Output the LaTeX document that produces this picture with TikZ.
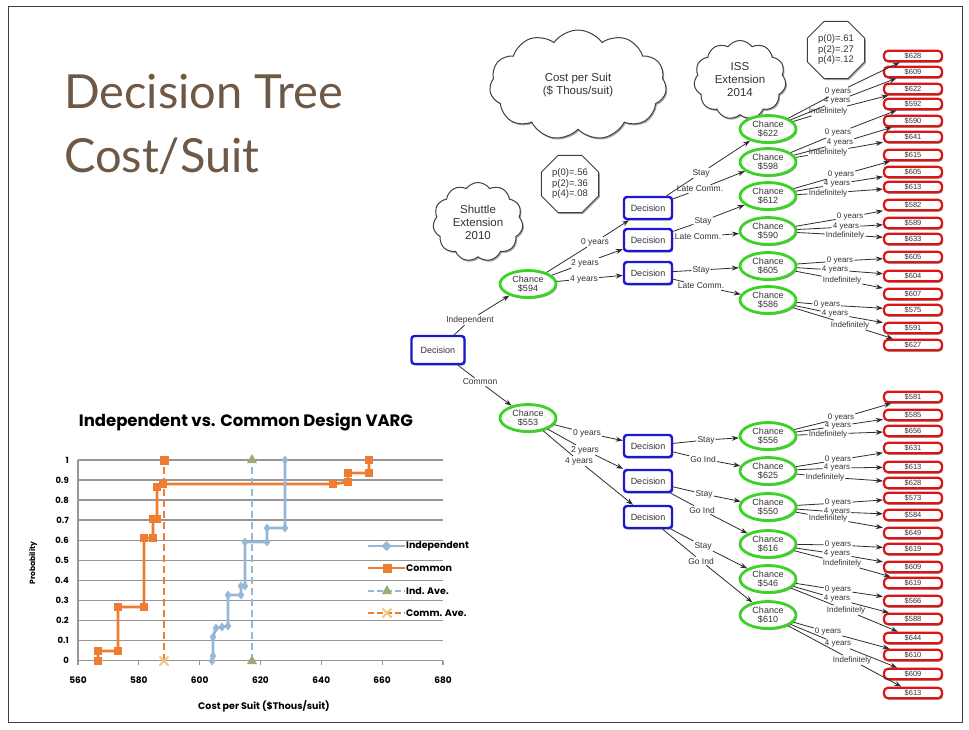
\documentclass[tikz,border=0pt]{standalone}
\usepackage{fontspec}
\setmainfont{Liberation Sans}
\newfontfamily\titlefont{Lato}
\newfontfamily\chartfont{Poppins}
\usetikzlibrary{shapes.geometric,shapes.symbols,shadows,arrows.meta,plotmarks}
\definecolor{decblue}{RGB}{25,25,205}
\definecolor{chgreen}{RGB}{60,210,40}
\definecolor{endred}{RGB}{220,20,20}
\definecolor{titlebrown}{RGB}{110,88,70}
\definecolor{corange}{RGB}{237,125,49}
\definecolor{cblue}{RGB}{149,184,215}
\definecolor{ctri}{RGB}{155,170,120}
\definecolor{cxmark}{RGB}{240,200,120}
\definecolor{gridgray}{RGB}{150,150,150}
\definecolor{linegray}{RGB}{45,45,45}
\tikzset{
  shad/.style={drop shadow={shadow xshift=1.2pt,shadow yshift=-1.5pt,opacity=0.35,fill=black}},
  dec/.style={draw=decblue,line width=2.4pt,rounded corners=3pt,fill=white,minimum width=48pt,minimum height=22pt,inner sep=0pt,font=\fontsize{9}{10}\selectfont,text=black!80,shad},
  chn/.style={ellipse,draw=chgreen,line width=2.8pt,fill=white,minimum width=56pt,minimum height=27pt,inner sep=0pt,align=center,font=\fontsize{9}{9.5}\selectfont,text=black!80,shad},
  endn/.style={draw=endred,line width=2.2pt,rounded corners=4pt,fill=white,minimum width=58pt,minimum height=10.5pt,inner sep=0pt,font=\fontsize{7.5}{7.5}\selectfont,text=black!80,shad},
  lbl/.style={inner sep=1pt,font=\fontsize{8.5}{8.5}\selectfont,text=black!80},
  ln/.style={draw=linegray,line width=0.8pt},
  arr/.style={ln,-{Stealth[length=7pt,width=5pt]}},
  cld/.style={cloud,cloud puffs=11,cloud puff arc=110,draw=black!75,line width=1pt,fill=white,align=center,inner sep=0pt,font=\fontsize{11.5}{13}\selectfont,text=black!80,shad},
  octo/.style={regular polygon,regular polygon sides=8,draw=black!75,line width=1pt,fill=white,minimum size=62pt,inner sep=0pt,align=center,font=\fontsize{9.5}{10.5}\selectfont,text=black!80,shad},
  grid/.style={draw=gridgray,line width=1.5pt},
  axlbl/.style={font=\chartfont\bfseries\fontsize{8.5}{8.5}\selectfont,inner sep=1pt},
  lgtxt/.style={font=\chartfont\bfseries\fontsize{9.5}{9.5}\selectfont,inner sep=1pt,anchor=west},
}
\begin{document}
\begin{tikzpicture}[x=1pt,y=-1pt]
\useasboundingbox (0,0) rectangle (969,729);
\fill[white] (0,0) rectangle (969,729);
\draw[black!75,line width=0.8pt] (8,6) rectangle (962,722);

% title
\node[anchor=west,text=titlebrown,font=\titlefont\fontsize{47}{47}\selectfont,inner sep=0pt] (t1) at (64,92) {Decision Tree};
\node[anchor=west,text=titlebrown,font=\titlefont\fontsize{47}{47}\selectfont,inner sep=0pt] (t2) at (64,156) {Cost/Suit};

% clouds and octagons
\node[cld,minimum width=177pt,minimum height=76pt] (cl1) at (578,85) {Cost per Suit\\(\$ Thous/suit)};
\node[cld,minimum width=92pt,minimum height=68pt] (cl2) at (740,80) {ISS\\Extension\\2014};
\node[cld,minimum width=90pt,minimum height=56pt] (cl3) at (478,222) {Shuttle\\Extension\\2010};
\node[octo] (o1) at (570,184) {p(0)=.56\\p(2)=.36\\p(4)=.08};
\node[octo] (o2) at (836,50) {p(0)=.61\\p(2)=.27\\p(4)=.12};

% end nodes
\foreach \y/\v [count=\i] in {56/628,72/609,89/622,104/592,121/590,137/641,155/615,172/605,187/613,205/582,223/589,239/633,257/605,276/604,294/607,310/575,328/591,345/627}
  \node[endn] (u\i) at (913,\y) {\$\v};
\foreach \y/\v [count=\i] in {397/581,415/585,431/656,448/631,467/613,483/628,498/573,515/584,533/649,549/619,567/609,583/619,601/566,619/588,638/644,655/610,674/609,693/613}
  \node[endn] (l\i) at (913,\y) {\$\v};

% chance nodes
\foreach \y/\v [count=\i] in {129/622,162/598,196/612,231/590,266/605,300/586}
  \node[chn] (c\i) at (768,\y) {Chance\\\$\v};
\foreach \y/\v [count=\i] in {436/556,471/625,507/550,544/616,579/546,615/610}
  \node[chn] (k\i) at (768,\y) {Chance\\\$\v};

% decision nodes
\node[dec,minimum width=53pt,minimum height=28pt] (d0) at (438,350) {Decision};
\node[dec] (d1) at (648,208) {Decision};
\node[dec] (d2) at (648,240) {Decision};
\node[dec] (d3) at (648,273) {Decision};
\node[dec] (e1) at (648,446) {Decision};
\node[dec] (e2) at (648,481) {Decision};
\node[dec] (e3) at (648,517) {Decision};
\node[chn] (ca) at (528,284) {Chance\\\$594};
\node[chn] (cb) at (528,418) {Chance\\\$553};

% first level
\node[lbl] (li) at (470,320) {Independent};
\node[lbl] (lc) at (480,382) {Common};
\draw[ln] (d0) -- (li); \draw[arr] (li) -- (ca);
\draw[ln] (d0) -- (lc); \draw[arr] (lc) -- (cb);

% second and third level
\foreach \a/\x/\y/\t/\b [count=\n] in {
  ca/595/242/0 years/d1, ca/585/263/2 years/d2, ca/584/279/4 years/d3,
  cb/587/433/0 years/e1, cb/585/450/2 years/e2, cb/579/461/4 years/e3,
  d1/701/173/Stay/c1, d1/700/189/Late Comm./c2,
  d2/703/221/Stay/c3, d2/698/237/Late Comm./c4,
  d3/701/270/Stay/c5, d3/701/286/Late Comm./c6,
  e1/706/440/Stay/k1, e1/703/459/Go Ind/k2,
  e2/704/494/Stay/k3, e2/702/510/Go Ind/k4,
  e3/703/546/Stay/k5, e3/701/561/Go Ind/k6}
{
  \node[lbl] (m\n) at (\x,\y) {\t};
  \draw[ln] (\a) -- (m\n);
  \draw[arr] (m\n) -- (\b);
}

% chance -> end branches
\foreach \a/\x/\y/\t/\b [count=\n] in {
  c1/838/92/0 years/u1, c1/837/101/4 years/u2, c1/828/111/Indefinitely/u3,
  c2/838/133/0 years/u4, c2/840/143/4 years/u5, c2/828/152/Indefinitely/u6,
  c3/841/175/0 years/u7, c3/837/184/4 years/u8, c3/828/193/Indefinitely/u9,
  c4/850/217/0 years/u10, c4/846/227/4 years/u11, c4/845/235/Indefinitely/u12,
  c5/840/261/0 years/u13, c5/835/270/4 years/u14, c5/842/280/Indefinitely/u15,
  c6/827/305/0 years/u16, c6/835/314/4 years/u17, c6/850/325/Indefinitely/u18,
  k1/841/418/0 years/l1, k1/838/426/4 years/l2, k1/828/434/Indefinitely/l3,
  k2/838/460/0 years/l4, k2/837/468/4 years/l5, k2/825/477/Indefinitely/l6,
  k3/838/503/0 years/l7, k3/837/512/4 years/l8, k3/828/518/Indefinitely/l9,
  k4/838/545/0 years/l10, k4/837/554/4 years/l11, k4/842/563/Indefinitely/l12,
  k5/838/590/0 years/l13, k5/837/599/4 years/l14, k5/846/610/Indefinitely/l15,
  k6/828/632/0 years/l16, k6/838/644/4 years/l17, k6/852/660/Indefinitely/l18}
{
  \node[lbl,font=\fontsize{8}{8}\selectfont] (b\n) at (\x,\y) {\t};
  \draw[ln] (\a) -- (b\n);
  \draw[arr] (b\n) -- (\b);
}

% ---------------- chart ----------------
\node[font=\chartfont\bfseries\fontsize{16.5}{16.5}\selectfont,inner sep=0pt] (ctitle) at (246,422) {Independent vs. Common Design VARG};
\foreach \k in {0,...,10}
  \draw[grid] (78,{660.7-20.07*\k}) -- (443,{660.7-20.07*\k});
\draw[grid] (78,460) -- (78,661);
\foreach \k/\t in {0/0,1/0.1,2/0.2,3/0.3,4/0.4,5/0.5,6/0.6,7/0.7,8/0.8,9/0.9,10/1}
  \node[axlbl,anchor=east] (yl\k) at (70,{660.7-20.07*\k}) {\t};
\foreach \j/\t in {0/560,1/580,2/600,3/620,4/640,5/660,6/680}{
  \draw[grid,line width=1.2pt] ({78+60.83*\j},661) -- ++(0,4);
  \node[axlbl,font=\chartfont\bfseries\fontsize{9}{9}\selectfont] (xl\j) at ({78+60.83*\j},680) {\t};
}
\node[axlbl,font=\chartfont\bfseries\fontsize{9.5}{9.5}\selectfont] (xt) at (264,706) {Cost per Suit (\$Thous/suit)};
\node[axlbl,rotate=90,font=\chartfont\bfseries\fontsize{7.5}{7.5}\selectfont] (yt) at (33,563) {Probability};

% averages
\draw[cblue,line width=2.2pt,dash pattern=on 7pt off 4pt] (252,661) -- (252,460);
\draw[corange,line width=2.2pt,dash pattern=on 7pt off 4pt] (164,661) -- (164,460);
\path[fill=ctri] (252,454) -- (257,463) -- (247,463) -- cycle;
\path[fill=ctri] (252,655) -- (257,664) -- (247,664) -- cycle;
\fill[corange] (159.5,455.5) rectangle (168.5,464.5);
\draw[cxmark,line width=1.8pt] (159.5,656.5) -- (168.5,665.5) (159.5,665.5) -- (168.5,656.5);

% data
\draw[corange,line width=2.8pt,mark=square*,mark size=3.4pt,mark options={fill=corange,draw=corange,line width=0.5pt}]
  plot coordinates {(98,661) (98,651) (118,651) (118,607) (144,607) (144,538) (153,538) (153,519) (157,519) (157,487) (163,484) (333,484) (348,482) (348,473) (369,473) (369,460)};
\draw[cblue,line width=2.8pt,mark=diamond*,mark size=4pt,mark options={fill=cblue,draw=cblue,line width=0.5pt}]
  plot coordinates {(212,661) (213,656) (213,637) (216,628) (222,627) (228,626) (228,595) (241,595) (241,586) (245,586) (245,542) (267,542) (267,528) (285,528) (285,460)};

% legend
\draw[cblue,line width=2.8pt] (368,546) -- (405,546);
\fill[cblue] (386.5,541) -- (391.5,546) -- (386.5,551) -- (381.5,546) -- cycle;
\node[lgtxt] (lg1) at (405,546) {Independent};
\draw[corange,line width=2.8pt] (368,568) -- (405,568);
\fill[corange] (382.5,563.5) rectangle (391.5,572.5);
\node[lgtxt] (lg2) at (405,568) {Common};
\draw[cblue,line width=2.2pt,dash pattern=on 6pt off 3pt] (368,591) -- (405,591);
\path[fill=ctri] (387,585) -- (392,594) -- (382,594) -- cycle;
\node[lgtxt] (lg3) at (405,591) {Ind. Ave.};
\draw[corange,line width=2.2pt,dash pattern=on 6pt off 3pt] (368,613) -- (405,613);
\draw[cxmark,line width=1.8pt] (382.5,608.5) -- (391.5,617.5) (382.5,617.5) -- (391.5,608.5);
\node[lgtxt] (lg4) at (405,613) {Comm. Ave.};
\end{tikzpicture}
\end{document}
